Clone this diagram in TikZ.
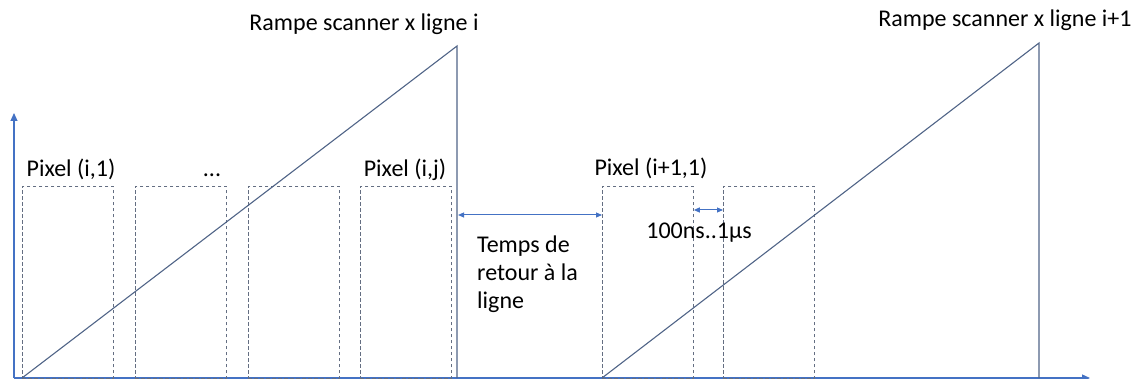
\documentclass[tikz,border=0pt]{standalone}
\usepackage{fontspec}
\setmainfont{Carlito}
\usetikzlibrary{arrows.meta}
\definecolor{axisblue}{RGB}{68,114,196}
\definecolor{rampcol}{RGB}{80,100,135}
\definecolor{boxcol}{RGB}{100,110,130}
\begin{document}
\begin{tikzpicture}[x=1pt,y=-1pt,
  lbl/.style={font=\fontsize{24}{28}\selectfont, inner sep=0pt, anchor=base},
  pixbox/.style={draw=boxcol, dashed, dash pattern=on 3.5pt off 2.5pt, line width=0.8pt, minimum width=91pt, minimum height=192pt, anchor=north west, inner sep=0pt},
  ramp/.style={draw=rampcol, line width=1.1pt},
  axis/.style={draw=axisblue, line width=1.2pt, -{Triangle[width=7pt,length=8pt]}},
  dim/.style={draw=axisblue, line width=1pt, {Triangle[width=5pt,length=6pt]}-{Triangle[width=5pt,length=6pt]}}]
\useasboundingbox (0,0) rectangle (1134,379);
% axes
\coordinate (o) at (14,378);
\coordinate (ytip) at (14,113);
\coordinate (xtip) at (1090,378);
\draw[axis] (o) -- (ytip);
\draw[axis] (o) -- (xtip);
% pixel boxes
\node[pixbox] (b1) at (22,186) {};
\node[pixbox] (b2) at (135,186) {};
\node[pixbox] (b3) at (248,186) {};
\node[pixbox] (b4) at (360,186) {};
\node[pixbox] (b5) at (602,186) {};
\node[pixbox] (b6) at (723,186) {};
% ramps
\coordinate (r1s) at (22,378);
\coordinate (r1t) at (457,46);
\coordinate (r1b) at (457,378);
\coordinate (r2s) at (602,378);
\coordinate (r2t) at (1039,43);
\coordinate (r2b) at (1039,378);
\draw[ramp] (r1s) -- (r1t) -- (r1b);
\draw[ramp] (r2s) -- (r2t) -- (r2b);
% labels
\node[lbl] (t1) at (364,31) {Rampe scanner x ligne i};
\node[lbl] (t2) at (1005,27) {Rampe scanner x ligne i+1};
\node[lbl] (p1) at (71,177) {Pixel (i,1)};
\node[lbl] (pd) at (212,177) {...};
\node[lbl] (pj) at (405,177) {Pixel (i,j)};
\node[lbl] (pi1) at (651,176) {Pixel (i+1,1)};
\node[lbl] (ns) at (699,239) {100ns..1µs};
\node[lbl, anchor=north west, align=left] (ret) at (477,236) {Temps de\\retour à la\\ligne};
% dimension arrows
\coordinate (a1) at (458,215);
\coordinate (a2) at (602,215);
\draw[dim] (a1) -- (a2);
\draw[dim] (b5.east |- 0,210) -- (b6.west |- 0,210);
\end{tikzpicture}
\end{document}
